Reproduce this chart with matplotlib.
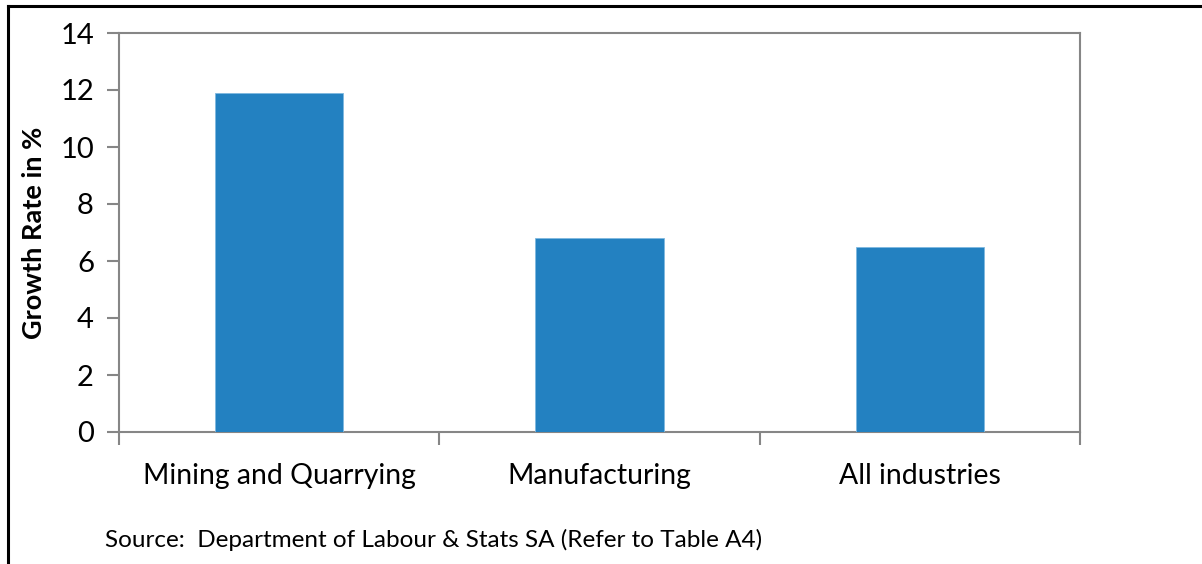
import matplotlib
matplotlib.use("Agg")
import matplotlib.pyplot as plt
from matplotlib.lines import Line2D

categories = ["Mining and Quarrying", "Manufacturing", "All industries"]
growth = [11.9, 6.8, 6.48]
yticks = [0, 2, 4, 6, 8, 10, 12, 14]

plt.rcParams['font.family'] = ['Lato', 'DejaVu Sans']

fig = plt.figure(figsize=(12.02, 5.64), dpi=100)
W, H = 1202, 564
ax = fig.add_axes([119 / W, 1 - 432 / H, (1080 - 119) / W, (432 - 33) / H])

x = list(range(len(categories)))
ax.bar(x, growth, width=0.4, color="#2381C1", edgecolor="#7FB8E0", linewidth=0.6, zorder=3)
ax.set_xlim(-0.5, len(categories) - 0.5)
ax.set_ylim(0, 14)
ax.set_yticks(yticks)
ax.set_yticklabels([str(t) for t in yticks], fontsize=21)
ax.set_xticks([i - 0.5 for i in range(len(categories) + 1)])
ax.set_xticklabels([])
ax.set_xticks(x, minor=True)
ax.set_xticklabels(categories, minor=True, fontsize=20.4)
ax.tick_params(axis='x', which='minor', length=0, pad=22)
ax.tick_params(axis='x', which='major', length=9, width=1.5, color="#868686", direction='out')
ax.tick_params(axis='y', length=9, width=1.5, color="#868686", direction='out', pad=9)
for s in ax.spines.values():
    s.set_color("#868686")
    s.set_linewidth(1.5)

ax.set_ylabel("Growth Rate in %", fontsize=19.5, fontweight='bold', labelpad=10)

fig.text(105 / W, 1 - 540 / H, "Source:  Department of Labour & Stats SA (Refer to Table A4)",
         fontsize=17.5, ha='left', va='center')

# outer frame (top and left edges)
fig.add_artist(Line2D([8 / W, 1], [1 - 6 / H, 1 - 6 / H], color='black', lw=2.2, transform=fig.transFigure))
fig.add_artist(Line2D([8 / W, 8 / W], [0, 1 - 6 / H], color='black', lw=2.2, transform=fig.transFigure))

fig.savefig("out.png", dpi=100, facecolor='white')
